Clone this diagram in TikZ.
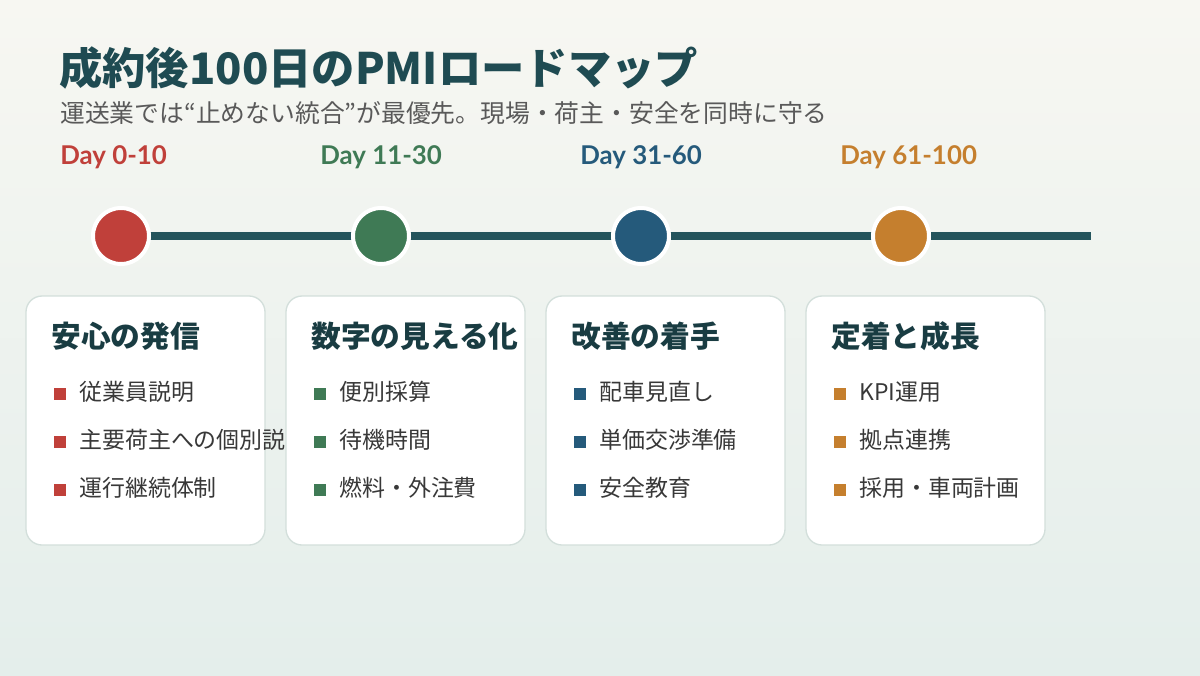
\documentclass[tikz,border=0pt]{standalone}
\usepackage{fontspec}
\setmainfont{Noto Sans CJK JP}
\newfontfamily\latfont{Lato}
\definecolor{cR}{HTML}{C0403A}
\definecolor{cG}{HTML}{3F7A55}
\definecolor{cB}{HTML}{255A7B}
\definecolor{cO}{HTML}{C57F2E}
\definecolor{ttl}{HTML}{1F4B52}
\definecolor{lineC}{HTML}{24545C}
\definecolor{bgT}{HTML}{F7F7F2}
\definecolor{bgB}{HTML}{E4EEEB}
\definecolor{cardB}{HTML}{D3DFDB}
\tikzset{
 dayl/.style={anchor=base west,inner sep=0pt,font=\latfont\bfseries\fontsize{19.4}{22}\selectfont},
 dot/.style={circle,draw=white,line width=3pt,minimum size=42pt,inner sep=0pt},
 card/.style={draw=cardB,line width=1pt,fill=white,rounded corners=12pt},
 head/.style={anchor=base west,inner sep=0pt,font=\bfseries\fontsize{22.3}{24}\selectfont,text=ttl!80!black},
 item/.style={anchor=base west,inner sep=0pt,font=\fontsize{17.2}{20}\selectfont,text=black!78},
 sq/.style={minimum size=9pt,inner sep=0pt}
}
\begin{document}
\begin{tikzpicture}[x=0.75pt,y=-0.75pt]
\shade[top color=bgT,bottom color=bgB] (0,0) rectangle (1200,675);
\useasboundingbox (0,0) rectangle (1200,675);
\node[anchor=base west,inner sep=0pt,font=\bfseries\fontsize{32.5}{36}\selectfont,text=ttl] (title) at (59,84) {成約後100日のPMIロードマップ};
\node[anchor=base west,inner sep=0pt,font=\fontsize{18.6}{22}\selectfont,text=black!65] (sub) at (60,122) {運送業では“止めない統合”が最優先。現場・荷主・安全を同時に守る};
\draw[lineC,line width=6pt] (120,236) -- (1091,236);
\foreach \x/\c/\d/\n in {60/cR/Day 0-10/a,320/cG/Day 11-30/b,580/cB/Day 31-60/c,840/cO/Day 61-100/d}{
  \node[dayl,text=\c] (day\n) at (\x,164) {\d};
  \node[dot,fill=\c] (dot\n) at (\x+61,236) {};
  \draw[card] (\x-34,296) rectangle (\x+205,545);
}
\newcommand\mycard[6]{%
  \node[head] (h#6) at (#1+51,347) {#3};
  \begin{scope}
  \clip (#1+26,296) rectangle (#1+285,545);
  \foreach \t [count=\i] in {#4}{
    \node[sq,fill=#2] at (#1+60,394+48*\i-48) {};
    \node[item] at (#1+79,400+48*\i-48) {\t};
  }
  \end{scope}}
\mycard{0}{cR}{安心の発信}{従業員説明,主要荷主への個別説明,運行継続体制}{}{a}
\mycard{260}{cG}{数字の見える化}{便別採算,待機時間,燃料・外注費}{}{b}
\mycard{520}{cB}{改善の着手}{配車見直し,単価交渉準備,安全教育}{}{c}
\mycard{780}{cO}{定着と成長}{KPI運用,拠点連携,採用・車両計画}{}{d}
\end{tikzpicture}
\end{document}
